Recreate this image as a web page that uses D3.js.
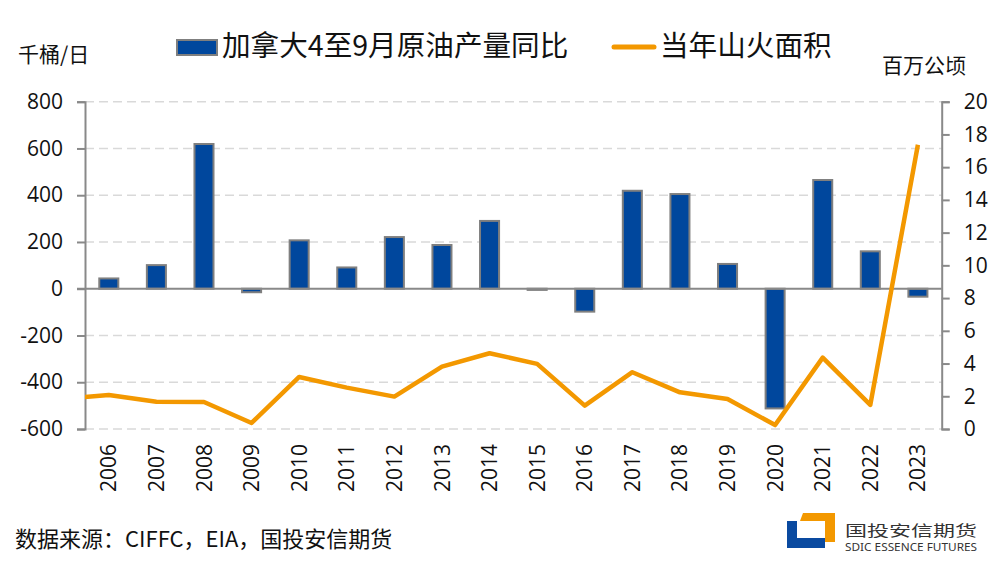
<!DOCTYPE html>
<html><head><meta charset="utf-8">
<script src="https://cdn.jsdelivr.net/npm/d3@7"></script>
<style>
body{margin:0;background:#fff;}
svg{display:block;font-family:"Noto Sans","Noto Sans CJK SC",sans-serif;}
</style></head>
<body>
<svg id="chart" width="999" height="561"></svg>
<script>
// ---- data ----
const years = [2006,2007,2008,2009,2010,2011,2012,2013,2014,2015,2016,2017,2018,2019,2020,2021,2022,2023];
const oilYoY = [44,101,619,-15,207,91,221,187,290,-5,-98,419,405,106,-512,465,160,-34]; // 千桶/日
const fireArea = [2.08,1.67,1.65,0.37,3.18,2.53,1.98,3.81,4.63,3.98,1.43,3.47,2.24,1.83,0.24,4.36,1.47,17.37]; // 百万公顷
const fireArea2005 = 1.83; // preceding year, only the clipped stub at the left edge is visible
const leftTicks = [-600,-400,-200,0,200,400,600,800];
const rightTicks = [0,2,4,6,8,10,12,14,16,18,20];
const seriesNames = ["加拿大4至9月原油产量同比","当年山火面积"];

const svg = d3.select("#chart");
const L = 85, R = 941.7, T = 101.7, B = 429;
const blue = "#00479d", orange = "#f39800", axisCol = "#898989", gridCol = "#d9d9d9";

const x = d3.scaleBand().domain(years).range([L, R]).paddingInner(0.6).paddingOuter(0.3);
const xc = d3.scaleLinear().domain([years[0]-0.5, years[years.length-1]+0.5]).range([L, R]);
const yL = d3.scaleLinear().domain([-600, 800]).range([B, T]);
const yR = d3.scaleLinear().domain([0, 20]).range([B, T]);

// gridlines
svg.append("g").selectAll("line").data(leftTicks.filter(d => d !== 0)).join("line")
  .attr("x1", L).attr("x2", R).attr("y1", d => yL(d)).attr("y2", d => yL(d))
  .attr("stroke", gridCol).attr("stroke-width", 1.5).attr("stroke-dasharray", "9,5");

// bars
svg.append("g").selectAll("rect").data(years).join("rect")
  .attr("x", d => x(d)).attr("width", x.bandwidth())
  .attr("y", (d, i) => yL(Math.max(0, oilYoY[i])))
  .attr("height", (d, i) => Math.abs(yL(oilYoY[i]) - yL(0)))
  .attr("fill", blue).attr("stroke", "#7f7f7f").attr("stroke-width", 2);

// zero (category) axis line
svg.append("line").attr("x1", L - 8).attr("x2", R).attr("y1", yL(0)).attr("y2", yL(0))
  .attr("stroke", axisCol).attr("stroke-width", 2);

// left axis
const gL = svg.append("g").attr("transform", `translate(${L},0)`)
  .call(d3.axisLeft(yL).tickValues(leftTicks).tickSize(8).tickPadding(14).tickFormat(d => String(d)));
gL.select(".domain").attr("stroke", axisCol).attr("stroke-width", 2);
gL.selectAll(".tick line").attr("stroke", axisCol).attr("stroke-width", 2);
gL.selectAll(".tick text").attr("font-size", 21).attr("fill", "#111").attr("font-family", "Open Sans, Noto Sans, sans-serif");

// right axis
const gR = svg.append("g").attr("transform", `translate(${R},0)`)
  .call(d3.axisRight(yR).tickValues(rightTicks).tickSize(8).tickPadding(14).tickFormat(d => String(d)));
gR.select(".domain").attr("stroke", axisCol).attr("stroke-width", 2);
gR.selectAll(".tick line").attr("stroke", axisCol).attr("stroke-width", 2);
gR.selectAll(".tick text").attr("font-size", 21).attr("fill", "#111").attr("font-family", "Open Sans, Noto Sans, sans-serif");

// line (clipped to plot area)
svg.append("clipPath").attr("id", "clip").append("rect")
  .attr("x", L).attr("y", 0).attr("width", R - L).attr("height", 561);
const linePts = [[years[0]-1, fireArea2005]].concat(years.map((d, i) => [d, fireArea[i]]));
svg.append("path").datum(linePts).attr("clip-path", "url(#clip)")
  .attr("d", d3.line().x(d => xc(d[0])).y(d => yR(d[1])))
  .attr("fill", "none").attr("stroke", orange).attr("stroke-width", 4.5).attr("stroke-linejoin", "round");

// year labels
svg.append("g").selectAll("text").data(years).join("text")
  .attr("transform", d => `translate(${xc(d)},444) rotate(-90)`)
  .attr("text-anchor", "end").attr("dy", "0.36em")
  .attr("font-size", 21).attr("fill", "#111").attr("font-family", "Open Sans, Noto Sans, sans-serif")
  .text(d => d);

// unit labels
svg.append("text").attr("x", 18).attr("y", 62).attr("font-size", 21).attr("fill", "#111")
  .attr("font-family", "Noto Sans CJK SC").text("千桶/日");
svg.append("text").attr("x", 882).attr("y", 73).attr("font-size", 21).attr("fill", "#111")
  .attr("font-family", "Noto Sans CJK SC").text("百万公顷");

// legend
svg.append("rect").attr("x", 177).attr("y", 40).attr("width", 40).attr("height", 15)
  .attr("fill", blue).attr("stroke", "#7f7f7f").attr("stroke-width", 2);
svg.append("text").attr("x", 222).attr("y", 56).attr("font-size", 28.6).attr("fill", "#111")
  .attr("font-family", "Noto Sans CJK SC").text(seriesNames[0]);
svg.append("line").attr("x1", 614).attr("x2", 654).attr("y1", 47).attr("y2", 47)
  .attr("stroke", orange).attr("stroke-width", 5).attr("stroke-linecap", "round");
svg.append("text").attr("x", 660).attr("y", 56).attr("font-size", 28.6).attr("fill", "#111")
  .attr("font-family", "Noto Sans CJK SC").text(seriesNames[1]);

// source
svg.append("text").attr("x", 15).attr("y", 547).attr("font-size", 22).attr("fill", "#111")
  .attr("font-family", "Noto Sans CJK SC").text("数据来源：CIFFC，EIA，国投安信期货");

// logo
const logo = svg.append("g");
logo.append("path").attr("fill", "#f39800")
  .attr("d", "M803,513 L835,513 L835,542 L825,542 L825,521 L800,521 Z");
logo.append("path").attr("fill", "#0a4aa0")
  .attr("d", "M787,521 L797,521 L797,538 L825,538 L825,548 L787,548 Z");
logo.append("text").attr("x", 845).attr("y", 536).attr("font-size", 14.5).attr("fill", "#333")
  .attr("font-family", "Noto Sans CJK SC").attr("textLength", 132).attr("lengthAdjust", "spacingAndGlyphs")
  .text("国投安信期货");
logo.append("text").attr("x", 845).attr("y", 550.5).attr("font-size", 10).attr("fill", "#333")
  .attr("font-family", "Noto Sans").attr("textLength", 132).attr("lengthAdjust", "spacingAndGlyphs")
  .text("SDIC ESSENCE FUTURES");
</script>
</body></html>
